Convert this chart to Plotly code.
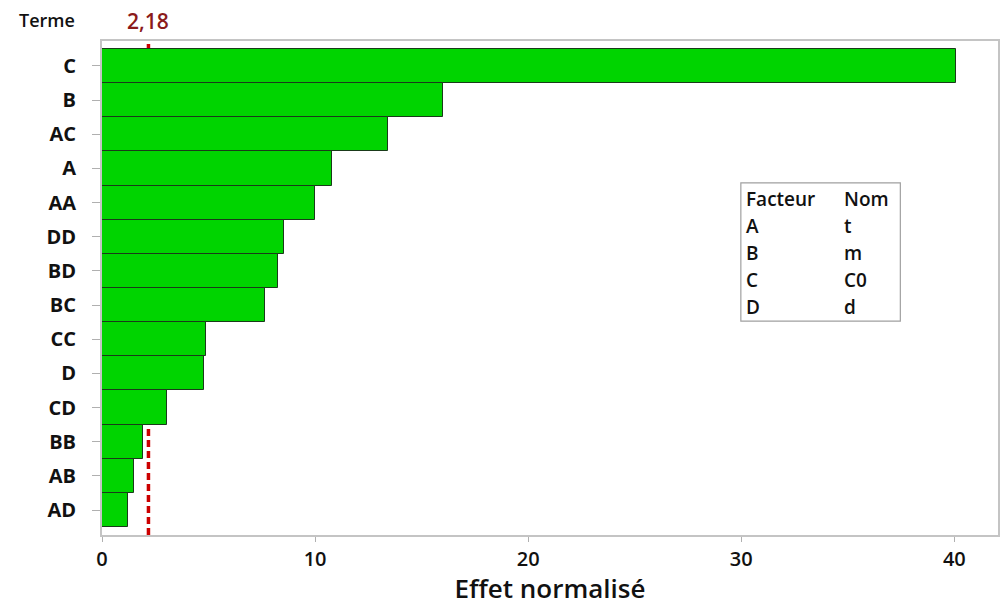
import plotly.graph_objects as go

# Standardized effects (Pareto order, largest first)
terms = ["C", "B", "AC", "A", "AA", "DD", "BD", "BC", "CC", "D", "CD", "BB", "AB", "AD"]
effects = [40.1, 16.0, 13.4, 10.8, 10.0, 8.55, 8.25, 7.65, 4.9, 4.8, 3.05, 1.92, 1.5, 1.2]
critical_value = 2.18
critical_label = "2,18"

factor_codes = ["A", "B", "C", "D"]
factor_names = ["t", "m", "C0", "d"]

FONT = "Open Sans"
INK = "#111111"

fig = go.Figure()

fig.add_trace(go.Bar(
    x=effects,
    y=terms,
    orientation="h",
    width=1.0,
    marker=dict(color="#00d400", line=dict(color="#1a3a1a", width=1)),
    showlegend=False,
    hoverinfo="x+y",
))

# critical value reference line, drawn behind the bars
fig.add_shape(
    type="line", xref="x", yref="paper",
    x0=critical_value, x1=critical_value, y0=0, y1=1,
    line=dict(color="#cc0000", width=3.5, dash="7px,4px"),
    layer="below",
)

fig.add_annotation(
    x=critical_value, xref="x", y=1.0, yref="paper", yshift=4,
    text=critical_label, showarrow=False, yanchor="bottom",
    font=dict(family=FONT, size=21, color="#8b1a1a", weight=600),
)
fig.add_annotation(
    x=-0.061, xref="paper", y=1.0, yref="paper", yshift=7,
    text="Terme", showarrow=False, xanchor="center", yanchor="bottom",
    font=dict(family=FONT, size=18, color=INK, weight=600),
)

# factor / name table
fig.add_shape(
    type="rect", xref="paper", yref="paper",
    x0=0.713, x1=0.891, y0=0.433, y1=0.713,
    line=dict(color="#a0a0a0", width=1.2), fillcolor="white", layer="above",
)
rows = [("Facteur", "Nom")] + list(zip(factor_codes, factor_names))
row_y = [0.680, 0.625, 0.571, 0.516, 0.462]
for (a, b), yy in zip(rows, row_y):
    fig.add_annotation(x=0.716, xref="paper", y=yy, yref="paper", text=a,
                       showarrow=False, xanchor="left", yanchor="middle",
                       font=dict(family=FONT, size=19, color=INK, weight=600))
    fig.add_annotation(x=0.826, xref="paper", y=yy, yref="paper", text=b,
                       showarrow=False, xanchor="left", yanchor="middle",
                       font=dict(family=FONT, size=19, color=INK, weight=600))

fig.update_layout(
    width=1000, height=606,
    margin=dict(l=102, r=0, t=41, b=71),
    paper_bgcolor="white", plot_bgcolor="white",
    bargap=0,
    xaxis=dict(
        range=[0, 42.05], tickvals=[0, 10, 20, 30, 40],
        showgrid=False, zeroline=False,
        showline=True, linecolor="#c4c4c4", linewidth=2, mirror=True,
        ticks="outside", ticklen=5, tickcolor="#b0b0b0",
        tickfont=dict(family=FONT, size=20, color=INK, weight=600),
        title=dict(text="Effet normalisé", standoff=14,
                   font=dict(family=FONT, size=26, color=INK, weight=600)),
    ),
    yaxis=dict(
        categoryorder="array", categoryarray=terms, autorange=False,
        range=[len(terms) - 1 + 0.73, -0.73],
        showgrid=False, zeroline=False,
        showline=True, linecolor="#c4c4c4", linewidth=2, mirror=True,
        ticks="outside", ticklen=8, tickcolor="#b0b0b0",
        ticklabelstandoff=12,
        tickfont=dict(family=FONT, size=20, color=INK, weight=700),
    ),
)

fig.write_html("out.html")
